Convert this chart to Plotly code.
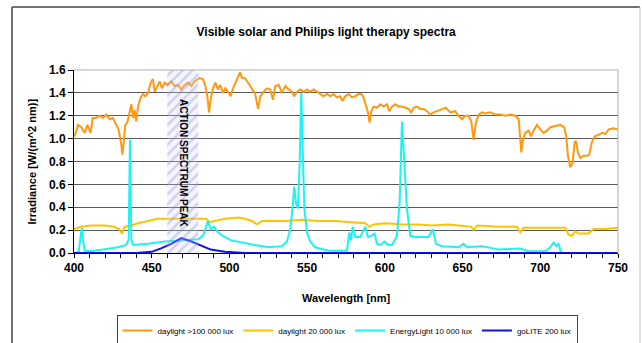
import plotly.graph_objects as go

# ---------------- data ----------------
day100k_nm = [400, 400.9, 402.6, 404.7, 406.9, 408.6, 410.7, 412, 414, 416.5, 418.7, 420.8, 423, 425, 427.2,
              428.7, 430.4, 431.1, 432, 433, 434.3, 435.8, 436.9, 438, 439, 440, 441.2, 442.9, 444.4, 445.9,
              447.6, 449.7, 450.8, 451.9, 453.4, 455.1, 456.6, 458.3, 460, 462.6, 464.8, 466.9, 469, 471.2,
              473.3, 475.5, 477.6, 480.8, 483, 484.5, 485.8, 486.9, 487.9, 489.4, 491, 492.6, 494.1, 495.8,
              497.4, 499, 500.8, 502.3, 503.8, 505.5, 506.8, 508.1, 509.8, 512, 514.5, 516.6, 518.4, 519.9,
              522, 524.2, 526.3, 528, 529.5, 531.7, 533.8, 536, 538.1, 540.2, 541.7, 543.5, 545.6, 547.7,
              549.9, 552, 554.2, 556.3, 558.5, 560.6, 562.8, 564.9, 567, 569.2, 571.3, 572.8, 574.5, 576.7,
              578.8, 580.9, 583.1, 584.8, 586.3, 587.8, 589.1, 590.2, 591.3, 592.8, 594.9, 597.1, 599.2,
              601.4, 602.9, 604.6, 606.7, 608.9, 611, 613.2, 615.3, 617, 618.5, 620.7, 622.8, 625, 627.1,
              629.2, 631.4, 633.5, 636.7, 639.3, 642.1, 645.3, 647.5, 649.6, 651.7, 653.9, 655.6, 657.1,
              658.6, 660.3, 662.5, 664.6, 667.8, 671, 674.3, 677.5, 680.7, 683.9, 686.1, 687.1, 687.8,
              688.6, 690.3, 692.5, 694, 695.7, 697.9, 700, 702.1, 704.3, 706.4, 709.6, 712.9, 715.4, 716.7,
              717.8, 719.3, 720.8, 722.1, 723, 724.2, 725.7, 727.9, 730, 731.5, 733.2, 735, 737.1, 739.7,
              741.8, 744, 747.2, 750]
day100k = [1.02, 1.04, 1.12, 1.10, 1.05, 1.12, 1.05, 1.18, 1.18, 1.20, 1.18, 1.21, 1.17, 1.18, 1.12,
           1.08, 0.95, 0.86, 0.97, 1.12, 1.14, 1.23, 1.30, 1.18, 1.25, 1.15, 1.28, 1.36, 1.39, 1.37,
           1.40, 1.50, 1.52, 1.41, 1.46, 1.50, 1.44, 1.49, 1.47, 1.50, 1.46, 1.47, 1.43, 1.47,
           1.49, 1.46, 1.50, 1.53, 1.52, 1.46, 1.37, 1.23, 1.34, 1.44, 1.49, 1.43, 1.47, 1.40,
           1.44, 1.41, 1.37, 1.44, 1.49, 1.53, 1.58, 1.53, 1.53, 1.49, 1.44, 1.39, 1.26, 1.37,
           1.41, 1.44, 1.43, 1.34, 1.46, 1.47, 1.40, 1.46, 1.43, 1.41, 1.37, 1.41, 1.43, 1.41,
           1.43, 1.41, 1.43, 1.41, 1.39, 1.37, 1.39, 1.37, 1.39, 1.36, 1.37, 1.33, 1.37, 1.39,
           1.36, 1.37, 1.39, 1.39, 1.36, 1.28, 1.23, 1.14, 1.24, 1.28, 1.27, 1.30, 1.28,
           1.30, 1.24, 1.28, 1.30, 1.28, 1.28, 1.27, 1.26, 1.23, 1.27, 1.28, 1.26, 1.26, 1.24,
           1.21, 1.23, 1.24, 1.26, 1.27, 1.23, 1.24, 1.20, 1.17, 1.20, 1.20, 1.15, 0.99,
           1.14, 1.21, 1.23, 1.22, 1.23, 1.21, 1.21, 1.20, 1.21, 1.20, 1.17, 0.99, 0.88,
           0.97, 1.05, 1.07, 1.02, 1.07, 1.12, 1.08, 1.05, 1.07, 1.10, 1.11, 1.12, 1.10, 1.02,
           0.85, 0.75, 0.79, 0.97, 0.98, 0.88, 0.83, 0.85, 0.85, 0.86, 0.97, 1.02, 1.03, 1.05,
           1.04, 1.08, 1.09, 1.08]

day20k_nm = [400, 404.7, 411, 420, 426, 429, 430.9, 432.6, 437, 441, 447.6, 454, 462.6, 473.3, 481.9,
             485, 487.3, 490.5, 497, 505.5, 509.8, 514.5, 517.7, 521, 527.4, 536, 546.7, 557.4, 568.1,
             578.8, 587.4, 590, 592.8, 600.3, 611, 621.7, 630.3, 641, 651.7, 655.6, 657.1, 659.3, 673.2,
             685, 687.1, 689.3, 694.6, 705.4, 716.1, 718.2, 720.4, 722.5, 724.7, 731.1, 734.3, 741.8, 750]
day20k = [0.21, 0.23, 0.24, 0.24, 0.23, 0.21, 0.17, 0.23, 0.24, 0.26, 0.28, 0.30, 0.30, 0.30, 0.30,
          0.30, 0.27, 0.28, 0.30, 0.31, 0.30, 0.28, 0.25, 0.28, 0.28, 0.28, 0.29, 0.28, 0.28,
          0.27, 0.26, 0.23, 0.25, 0.26, 0.25, 0.25, 0.24, 0.25, 0.24, 0.23, 0.20, 0.24, 0.23,
          0.23, 0.18, 0.22, 0.22, 0.22, 0.22, 0.16, 0.15, 0.19, 0.17, 0.17, 0.21, 0.21, 0.22]

energy_nm = [400, 403, 404.3, 405.1, 406, 406.9, 411, 419.7, 428.3, 433.7, 435.2, 436, 436.9, 438, 447.6,
             458.3, 469, 479.8, 483, 485.1, 486.2, 487.9, 490, 492.6, 496.9, 501.2, 507.7, 516.2, 525.2,
             533.8, 537, 539.2, 540.7, 541.7, 542.8, 544.1, 545.2, 546.2, 547.1, 548.2, 549.9, 552, 555.2,
             563.8, 575.6, 577.1, 578.2, 579.3, 581, 584.2, 587.4, 589.1, 591.3, 593.4, 594.9, 597.1,
             599.9, 602, 604.6, 607.8, 609.5, 611, 612.5, 614.2, 616.4, 619.6, 623.9, 628.2, 630.8,
             632.9, 636.7, 647.5, 650.7, 652.8, 662.5, 673.2, 687.1, 692.5, 703.2, 706.4, 708.6, 710.3,
             711.8, 713.3, 714.5]
energy = [0.0, 0.01, 0.15, 0.22, 0.10, 0.02, 0.015, 0.03, 0.05, 0.07, 0.12, 0.99, 0.12, 0.07, 0.08,
          0.10, 0.11, 0.12, 0.15, 0.24, 0.28, 0.21, 0.23, 0.18, 0.14, 0.11, 0.09, 0.07, 0.05,
          0.06, 0.10, 0.21, 0.41, 0.58, 0.44, 0.39, 0.79, 1.40, 0.94, 0.39, 0.18, 0.10, 0.05,
          0.02, 0.02, 0.18, 0.11, 0.23, 0.14, 0.14, 0.23, 0.14, 0.15, 0.17, 0.08, 0.07,
          0.10, 0.07, 0.07, 0.15, 0.44, 1.15, 0.79, 0.39, 0.15, 0.14, 0.14, 0.14, 0.21,
          0.08, 0.06, 0.05, 0.08, 0.05, 0.06, 0.03, 0.04, 0.015, 0.015, 0.05, 0.09, 0.06,
          0.08, 0.01, 0.0]

golite_nm = [400, 440, 450, 456, 462.6, 469, 475.5, 482, 488, 497, 510, 600, 750]
golite = [0.0, 0.0, 0.01, 0.04, 0.08, 0.13, 0.10, 0.06, 0.03, 0.01, 0.0, 0.0, 0.0]

peak_band_center = [470]
peak_band_width = [20]
peak_band_top = [1.6]
peak_label = "ACTION SPECTRUM PEAK"

x_tickvals = list(range(400, 751, 10))
x_ticktext = [str(v) if v % 50 == 0 else "" for v in x_tickvals]
y_tickvals = [0.0, 0.2, 0.4, 0.6, 0.8, 1.0, 1.2, 1.4, 1.6]

FONT = "Liberation Sans, Arial, sans-serif"
W, H = 642, 343

fig = go.Figure()
series = [
    ("daylight >100 000 lux", day100k_nm, day100k, "#FF9910"),
    ("daylight 20 000 lux", day20k_nm, day20k, "#FFC400"),
    ("EnergyLight 10 000 lux", energy_nm, energy, "#1EF2F2"),
    ("goLITE 200 lux", golite_nm, golite, "#1010F0"),
]
for name, xs, ys, col in series:
    fig.add_trace(go.Scatter(x=xs, y=ys, name=name, mode="lines",
                             line=dict(color=col, width=2)))

# hatched action-spectrum band drawn on an overlaying axis so it sits above the lines
fig.add_trace(go.Bar(x=peak_band_center, y=peak_band_top, width=peak_band_width,
                     xaxis="x2", yaxis="y2", showlegend=False, hoverinfo="skip",
                     marker=dict(color="rgba(215,215,245,0.25)", line=dict(width=0),
                                 pattern=dict(shape="/", fgcolor="rgba(120,120,215,0.6)",
                                              size=7, solidity=0.35))))

fig.update_layout(
    width=W, height=H,
    margin=dict(l=74, r=24, t=70, b=90),
    paper_bgcolor="white", plot_bgcolor="white",
    font=dict(family=FONT, color="black"),
    showlegend=True,
    title=dict(text="<b>Visible solar and Philips light therapy spectra</b>",
               x=0.508, xanchor="center", y=1 - 32 / H, yanchor="middle",
               yref="container", font=dict(size=12, family=FONT)),
    xaxis=dict(range=[400, 750], tickvals=x_tickvals, ticktext=x_ticktext,
               ticks="outside", ticklen=4, tickcolor="black", tickwidth=1,
               showline=True, linecolor="black", linewidth=1, showgrid=False, zeroline=False,
               automargin=False,
               tickfont=dict(size=12, family=FONT, weight="bold")),
    yaxis=dict(range=[0, 1.6], tickvals=y_tickvals, tickformat=".1f",
               ticks="outside", ticklen=5, tickcolor="black", tickwidth=1,
               showline=True, linecolor="black", linewidth=1, automargin=False,
               showgrid=True, gridcolor="#5a5a5a", gridwidth=1, zeroline=False,
               tickfont=dict(size=12, family=FONT, weight="bold")),
    xaxis2=dict(range=[400, 750], overlaying="x", visible=False),
    yaxis2=dict(range=[0, 1.6], overlaying="y", visible=False),
    barmode="overlay",
    legend=dict(orientation="h", x=(347 / W), xanchor="center", xref="container",
                y=1 - 315 / H, yanchor="top", yref="container",
                bordercolor="#444444", borderwidth=1, bgcolor="white",
                font=dict(size=8, family=FONT), itemwidth=30, tracegroupgap=0),
    annotations=[
        dict(text="<b>Wavelength [nm]</b>", xref="paper", yref="paper", x=0.5, y=(253 - 298) / 183,
             xanchor="center", yanchor="middle", showarrow=False, font=dict(size=11, family=FONT)),
        dict(text="<b>Irradiance [W/(m^2 nm)]</b>", xref="paper", yref="paper",
             x=(31 - 74) / 544, y=0.5, xanchor="center", yanchor="middle", textangle=-90,
             showarrow=False, font=dict(size=11, family=FONT)),
        dict(text="<b>" + peak_label + "</b>", xref="x", yref="y", x=peak_band_center[0], y=0.78,
             xanchor="center", yanchor="middle", textangle=90, showarrow=False,
             font=dict(size=10, family=FONT)),
    ],
    shapes=[
        # light plot-area border at top/right
        dict(type="line", xref="paper", yref="paper", x0=0, x1=1, y0=1, y1=1,
             line=dict(color="#b0b0b0", width=1)),
        dict(type="line", xref="paper", yref="paper", x0=1, x1=1, y0=0, y1=1,
             line=dict(color="#b0b0b0", width=1)),
        # outer chart frame
        dict(type="line", xref="paper", yref="paper", x0=(12 - 74) / 544, x1=(640 - 74) / 544,
             y0=(253 - 7) / 183, y1=(253 - 7) / 183, line=dict(color="#444444", width=1.5)),
        dict(type="line", xref="paper", yref="paper", x0=(12 - 74) / 544, x1=(12 - 74) / 544,
             y0=(253 - 7) / 183, y1=(253 - 350) / 183, line=dict(color="#444444", width=1.5)),
        dict(type="line", xref="paper", yref="paper", x0=(640 - 74) / 544, x1=(640 - 74) / 544,
             y0=(253 - 7) / 183, y1=(253 - 350) / 183, line=dict(color="#c8c8c8", width=1)),
    ],
)

fig.write_html("out.html", config={"displayModeBar": False},
               post_script="document.body.style.margin='0px';document.body.style.overflow='hidden';")
